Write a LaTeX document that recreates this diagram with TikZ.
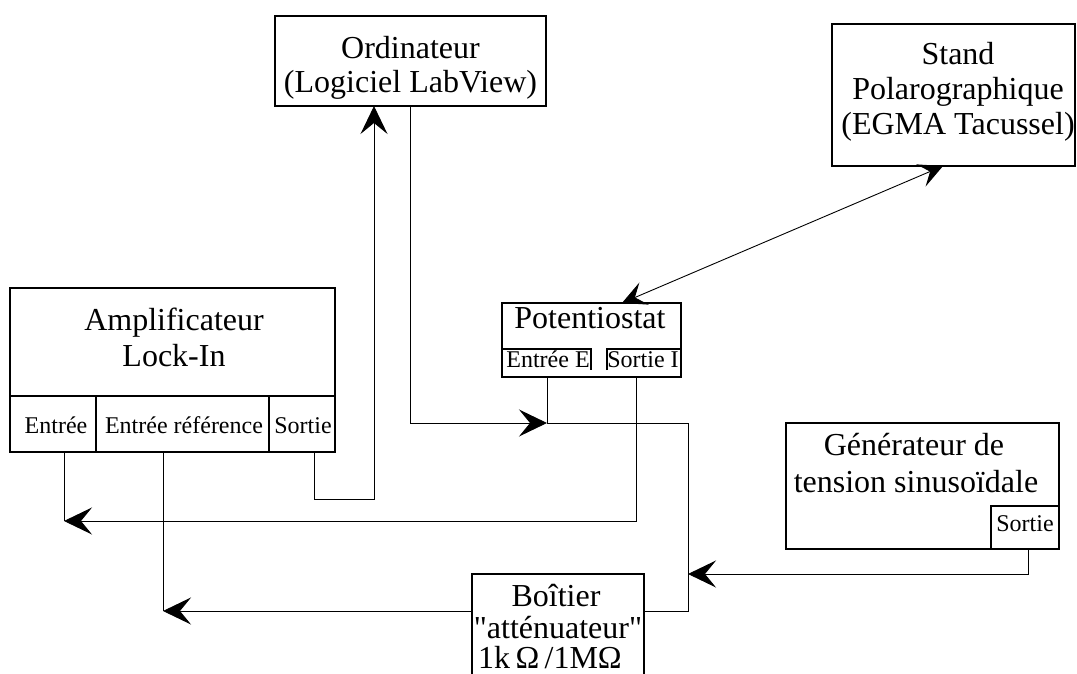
\documentclass[tikz,border=0pt]{standalone}
\usepackage{fontspec}
\setmainfont{Liberation Serif}[Ligatures=TeXOff]
\usetikzlibrary{arrows.meta,calc}
\begin{document}
\begin{tikzpicture}[x=1pt,y=-1pt,
  box/.style={draw, line width=1.1pt, inner sep=0pt, outer sep=0pt, anchor=north west},
  area/.style={inner sep=0pt, outer sep=0pt, anchor=north west},
  big/.style={font=\fontsize{32}{34}\selectfont, inner sep=0pt, anchor=base},
  small/.style={font=\fontsize{24}{26}\selectfont, inner sep=0pt, anchor=base},
  wire/.style={line width=0.9pt},
  tip/.style={-{Stealth[length=28pt,width=27pt,inset=11pt]}},
  bitip/.style={{Stealth[length=24pt,width=24pt,inset=10pt]}-{Stealth[length=24pt,width=24pt,inset=10pt]}},
]
\useasboundingbox (0,0) rectangle (1077,674);
\clip (0,0) rectangle (1077,674);

% Computer
\node[box, minimum width=271pt, minimum height=90pt] (ord) at (275,16) {};
\node[big] (ordA) at (410.5,59) {Ordinateur};
\node[big] (ordB) at (410.5,93) {(Logiciel LabView)};

% Polarographic stand
\node[box, minimum width=243pt, minimum height=142pt] (stand) at (832,24) {};
\node[big] (standA) at (958,65) {Stand};
\node[big] (standB) at (958,100) {Polarographique};
\node[big] (standC) at (958,135) {(EGMA Tacussel)};

% Lock-in amplifier with its three ports
\node[box, minimum width=325pt, minimum height=164pt] (amp) at (10,288) {};
\node[box, minimum width=86pt, minimum height=56pt] (ampIn) at (10,396) {};
\node[box, minimum width=173pt, minimum height=56pt] (ampRef) at (96,396) {};
\node[box, minimum width=66pt, minimum height=56pt] (ampOut) at (269,396) {};
\node[big] (ampA) at (174,330) {Amplificateur};
\node[big] (ampB) at (174,366) {Lock-In};
\node[small] (ampInT) at (56,433) {Entrée};
\node[small] (ampRefT) at (184,433) {Entrée référence};
\node[small] (ampOutT) at (303,433) {Sortie};

% Potentiostat
\node[box, minimum width=179pt, minimum height=74pt] (pot) at (502,303) {};
\node[big] (potT) at (590,328) {Potentiostat};
\node[area, minimum width=89pt, minimum height=28pt] (potIn) at (502,349) {};
\node[area, minimum width=74pt, minimum height=28pt] (potOut) at (607,349) {};
\draw[line width=1.1pt] (potIn.north west) -- (potIn.north east) -- ([yshift=-21pt]potIn.north east);
\draw[line width=1.1pt] ([yshift=-21pt]potOut.north west) -- (potOut.north west) -- (potOut.north east);
\node[small] (potInT) at (548,367) {Entrée E};
\node[small] (potOutT) at (643,367) {Sortie I};

% Sine generator
\node[box, minimum width=273pt, minimum height=126pt] (gen) at (786,423) {};
\node[box, minimum width=68pt, minimum height=43pt] (genOut) at (991,506) {};
\node[big] (genA) at (914,455) {Générateur de};
\node[big] (genB) at (916,492) {tension sinusoïdale};
\node[small] (genOutT) at (1025,531) {Sortie};

% Attenuator box
\node[box, minimum width=172pt, minimum height=130pt] (boit) at (472,574) {};
\node[big] (boitA) at (556,606) {Boîtier};
\node[big] (boitB) at (558,638) {"atténuateur"};
\node[big] (boitC) at (550,668) {1k\,Ω\,/1MΩ};

% Lock-in output to computer
\draw[wire, tip] ([xshift=12pt]ampOut.south) -- ++(0,47) -| ([xshift=-36.5pt]ord.south);

% Computer to potentiostat input, and on to the attenuator
\coordinate (jE) at ($(potIn.south)+(0.5,46)$);
\coordinate (jR) at ($(jE)+(141,0)$);
\draw[wire, tip] (ord.south) |- (jE);
\draw[wire] ([xshift=0.5pt]potIn.south) -- (jE);
\draw[wire] (jE) -- (jR) |- ([yshift=-37pt]boit.north east);

% Generator output
\draw[wire, tip] ([xshift=3pt]genOut.south) |- ($(jR)+(0,151)$);

% Potentiostat current output to lock-in input
\coordinate (jA) at ($(ampIn.south)+(11,69)$);
\draw[wire, tip] ([xshift=-8pt]potOut.south) |- (jA);
\draw[wire] ([xshift=11pt]ampIn.south) -- (jA);

% Attenuator to lock-in reference
\coordinate (jB) at ($(ampRef.south)+(-19.5,159)$);
\draw[wire, tip] ([yshift=-37pt]boit.north west) -- (jB);
\draw[wire] ([xshift=-19.5pt]ampRef.south) -- (jB);

% Stand <-> potentiostat
\draw[wire, bitip] ([xshift=30.5pt]pot.north) -- ([xshift=-10.5pt]stand.south);
\end{tikzpicture}
\end{document}
